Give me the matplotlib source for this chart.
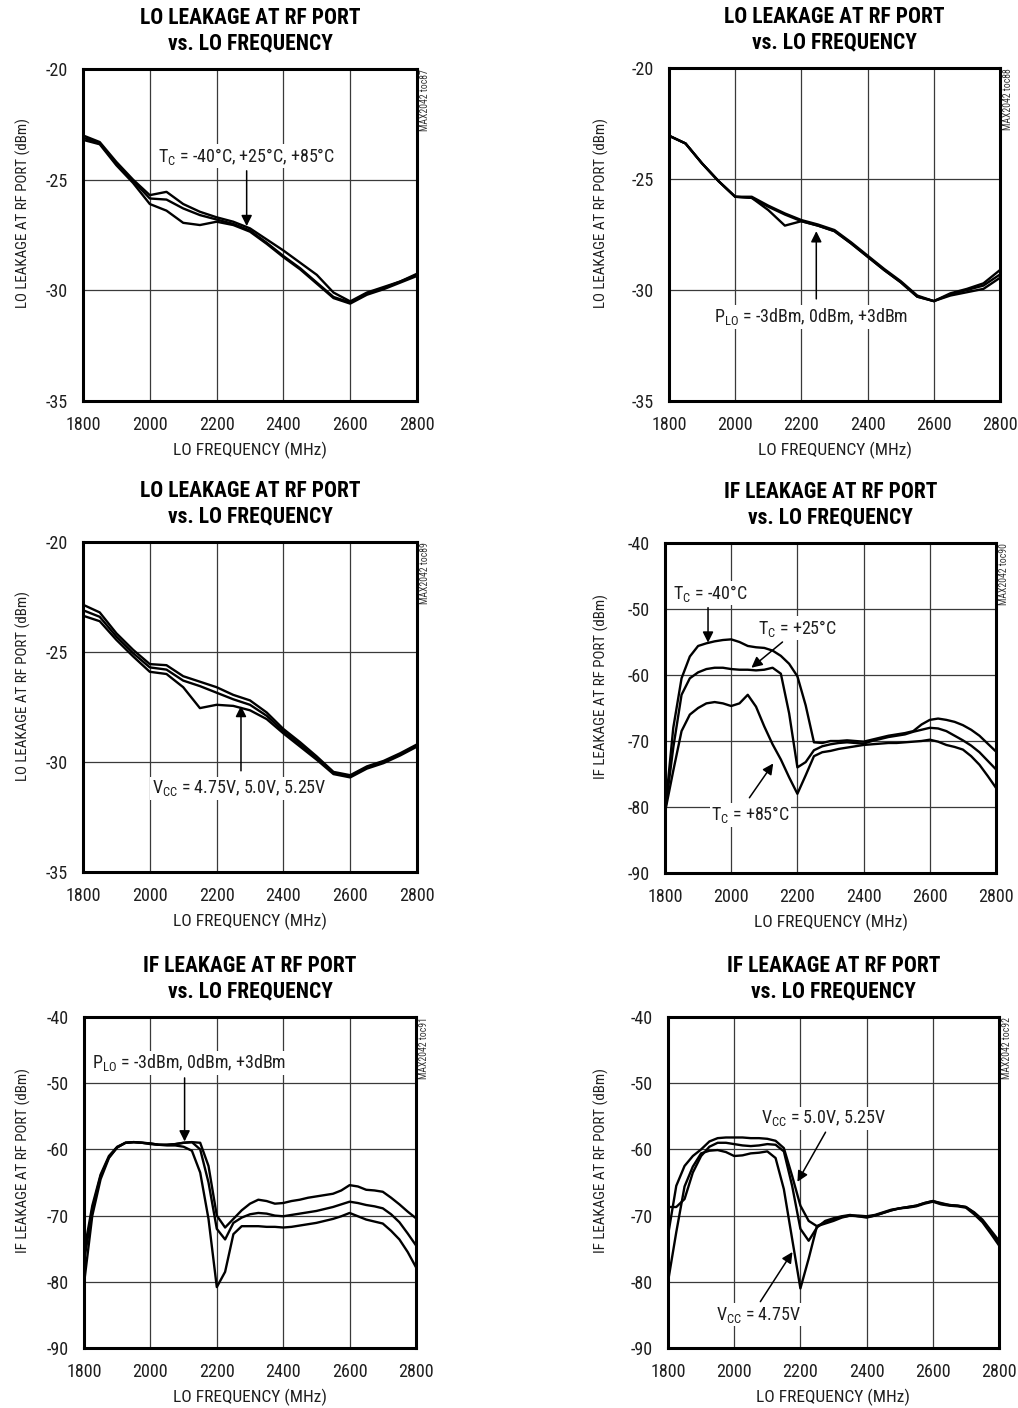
import matplotlib
matplotlib.use("Agg")
import matplotlib.pyplot as plt

FONT = ['Roboto Condensed', 'IBM Plex Sans Condensed', 'Archivo Narrow', 'DejaVu Sans']
plt.rcParams['font.family'] = FONT
plt.rcParams['mathtext.default'] = 'regular'
plt.rcParams['axes.unicode_minus'] = False

# ---------------- data ----------------
freq_ticks = [1800, 2000, 2200, 2400, 2600, 2800]
freq_tick_labels = ["1800", "2000", "2200", "2400", "2600", "2800"]
lo_yticks = [-35, -30, -25, -20]
lo_ytick_labels = ["-35", "-30", "-25", "-20"]
if_yticks = [-90, -80, -70, -60, -50, -40]
if_ytick_labels = ["-90", "-80", "-70", "-60", "-50", "-40"]

# LO leakage panels: 50 MHz step
f_lo = [1800, 1850, 1900, 1950, 2000, 2050, 2100, 2150, 2200, 2250, 2300,
        2350, 2400, 2450, 2500, 2550, 2600, 2650, 2700, 2750, 2800]

# Panel 1: LO leakage vs TC
lo_tc_a = [-23.0, -23.3, -24.2, -25.0, -25.7, -25.55, -26.1, -26.45, -26.7, -26.9, -27.2,
           -27.7, -28.2, -28.75, -29.3, -30.1, -30.5, -30.1, -29.85, -29.6, -29.25]
lo_tc_b = [-23.1, -23.35, -24.3, -25.05, -25.85, -25.9, -26.3, -26.6, -26.8, -27.0, -27.3,
           -27.85, -28.45, -29.0, -29.65, -30.3, -30.55, -30.15, -29.9, -29.6, -29.3]
lo_tc_c = [-23.2, -23.4, -24.35, -25.15, -26.1, -26.4, -26.95, -27.05, -26.9, -27.05, -27.35,
           -27.9, -28.5, -29.05, -29.7, -30.35, -30.6, -30.2, -29.95, -29.65, -29.35]

# Panel 2: LO leakage vs PLO
lo_plo_a = [-23.05, -23.4, -24.3, -25.1, -25.8, -25.8, -26.2, -26.55, -26.85, -27.05, -27.3,
            -27.85, -28.45, -29.05, -29.6, -30.25, -30.5, -30.15, -29.95, -29.7, -29.1]
lo_plo_b = [-23.05, -23.4, -24.3, -25.1, -25.8, -25.85, -26.25, -26.6, -26.9, -27.1, -27.35,
            -27.9, -28.5, -29.1, -29.65, -30.3, -30.5, -30.2, -30.0, -29.8, -29.3]
lo_plo_c = [-23.05, -23.4, -24.3, -25.1, -25.8, -25.85, -26.4, -27.1, -26.9, -27.1, -27.35,
            -27.9, -28.5, -29.1, -29.65, -30.3, -30.5, -30.25, -30.1, -29.95, -29.45]

# Panel 3: LO leakage vs VCC
lo_vcc_a = [-22.85, -23.2, -24.15, -24.9, -25.55, -25.6, -26.1, -26.35, -26.6, -26.95, -27.2,
            -27.75, -28.5, -29.1, -29.75, -30.45, -30.6, -30.2, -29.95, -29.6, -29.2]
lo_vcc_b = [-23.1, -23.4, -24.3, -25.05, -25.7, -25.8, -26.3, -26.55, -26.85, -27.15, -27.4,
            -27.9, -28.6, -29.2, -29.85, -30.5, -30.65, -30.25, -30.0, -29.65, -29.25]
lo_vcc_c = [-23.35, -23.6, -24.45, -25.2, -25.9, -26.0, -26.6, -27.55, -27.4, -27.45, -27.65,
            -28.05, -28.7, -29.3, -29.9, -30.55, -30.7, -30.3, -30.05, -29.7, -29.3]

# IF leakage panels: 25 MHz step
f_if = [1800, 1825, 1850, 1875, 1900, 1925, 1950, 1975, 2000, 2025, 2050,
        2075, 2100, 2125, 2150, 2175, 2200, 2225, 2250, 2275, 2300,
        2325, 2350, 2375, 2400, 2425, 2450, 2475, 2500, 2525, 2550,
        2575, 2600, 2625, 2650, 2675, 2700, 2725, 2750, 2775, 2800]

# Panel 4: IF leakage vs TC
if_tc_m40 = [-80.8, -68.0, -60.5, -57.2, -55.6, -55.2, -54.9, -54.7, -54.6, -55.0, -55.6,
             -55.8, -55.9, -56.3, -57.1, -58.3, -60.2, -64.6, -70.2, -70.3, -70.0,
             -70.0, -69.9, -70.0, -70.1, -69.8, -69.5, -69.2, -69.0, -68.8, -68.5,
             -67.5, -66.8, -66.6, -66.8, -67.1, -67.6, -68.3, -69.2, -70.4, -71.6]
if_tc_p25 = [-80.8, -71.0, -63.0, -60.5, -59.6, -59.1, -58.9, -58.9, -59.1, -59.2, -59.2,
             -59.3, -59.2, -58.9, -59.8, -65.8, -74.0, -73.2, -71.4, -70.8, -70.5,
             -70.3, -70.2, -70.3, -70.4, -70.0, -69.7, -69.4, -69.2, -69.0, -68.6,
             -68.3, -68.0, -68.1, -68.5, -69.2, -69.9, -70.7, -71.7, -73.0, -74.3]
if_tc_p85 = [-80.8, -74.5, -68.5, -66.0, -65.0, -64.3, -64.1, -64.3, -64.7, -64.3, -63.0,
             -64.8, -67.8, -70.5, -72.8, -75.5, -78.0, -75.2, -72.3, -71.7, -71.5,
             -71.2, -71.0, -70.8, -70.6, -70.5, -70.4, -70.3, -70.3, -70.2, -70.1,
             -70.0, -69.8, -70.1, -70.6, -70.9, -71.3, -72.3, -73.6, -75.3, -77.1]

# Panel 5: IF leakage vs PLO
if_plo_a = [-75.5, -68.5, -63.8, -61.0, -59.6, -59.0, -58.9, -59.0, -59.1, -59.3, -59.3,
            -59.2, -59.0, -58.9, -59.0, -62.5, -70.0, -71.8, -70.5, -69.2, -68.2,
            -67.6, -67.8, -68.2, -68.1, -67.8, -67.6, -67.3, -67.1, -66.9, -66.7,
            -66.2, -65.4, -65.6, -66.1, -66.2, -66.4, -67.3, -68.3, -69.4, -70.4]
if_plo_b = [-77.0, -69.0, -64.0, -61.2, -59.7, -59.0, -58.9, -59.0, -59.1, -59.3, -59.3,
            -59.2, -59.0, -58.9, -60.0, -65.0, -72.0, -73.6, -71.1, -70.3, -69.8,
            -69.6, -69.7, -70.0, -70.1, -69.9, -69.7, -69.5, -69.3, -69.0, -68.7,
            -68.3, -67.9, -68.1, -68.4, -68.6, -68.9, -69.8, -71.0, -72.7, -74.5]
if_plo_c = [-80.3, -70.0, -64.5, -61.3, -59.7, -59.0, -58.9, -59.0, -59.2, -59.3, -59.4,
            -59.4, -59.6, -60.2, -63.5, -70.5, -80.8, -78.5, -72.8, -71.6, -71.6,
            -71.6, -71.7, -71.7, -71.8, -71.7, -71.5, -71.3, -71.1, -70.8, -70.5,
            -70.1, -69.6, -70.1, -70.6, -70.9, -71.2, -72.3, -73.6, -75.5, -77.8]

# Panel 6: IF leakage vs VCC
if_vcc_475 = [-80.0, -72.5, -65.6, -62.6, -60.6, -60.2, -60.1, -60.4, -61.0, -60.9, -60.6,
              -60.5, -60.3, -61.3, -66.0, -73.5, -81.0, -76.5, -71.6, -71.2, -70.8,
              -70.3, -70.0, -70.1, -70.3, -70.0, -69.6, -69.2, -68.9, -68.8, -68.6,
              -68.2, -67.9, -68.3, -68.5, -68.6, -68.8, -69.8, -71.0, -72.7, -74.5]
if_vcc_500 = [-68.7, -68.7, -67.5, -63.5, -61.0, -59.6, -59.0, -59.0, -59.2, -59.4, -59.5,
              -59.4, -59.2, -59.3, -60.3, -65.5, -72.0, -73.8, -71.8, -70.8, -70.4,
              -70.1, -69.9, -70.1, -70.2, -70.0, -69.6, -69.2, -68.9, -68.7, -68.5,
              -68.1, -67.8, -68.2, -68.4, -68.5, -68.7, -69.6, -70.8, -72.4, -74.0]
if_vcc_525 = [-73.0, -65.5, -62.5, -61.0, -60.0, -58.8, -58.3, -58.2, -58.2, -58.2, -58.3,
              -58.3, -58.4, -58.7, -59.8, -64.0, -68.5, -70.8, -71.6, -71.0, -70.6,
              -70.2, -70.0, -70.0, -70.1, -69.9, -69.5, -69.1, -68.9, -68.7, -68.5,
              -68.1, -67.8, -68.1, -68.4, -68.5, -68.7, -69.5, -70.6, -72.2, -73.8]

# ---------------- figure ----------------
W, H = 1018, 1408
fig = plt.figure(figsize=(W / 100, H / 100), dpi=100)
fig.patch.set_facecolor('white')
TXT = '#1e1e1e'
PX = 72 / 100.0  # points per pixel


def make_axes(l, t, r, b):
    return fig.add_axes([l / W, 1 - b / H, (r - l) / W, (b - t) / H])


def style(ax, box, yticks, ylabels, ylim, ylabel, title, tag, ylab_right_px):
    l, t, r, b = box
    ax.set_xlim(1800, 2800)
    ax.set_ylim(*ylim)
    ax.set_xticks(freq_ticks)
    ax.set_xticklabels(freq_tick_labels)
    ax.set_yticks(yticks)
    ax.set_yticklabels(ylabels)
    ax.tick_params(length=0, labelsize=13, colors=TXT)
    ax.tick_params(axis='x', pad=11)
    ax.tick_params(axis='y', pad=11)
    ax.grid(True, color='#3a3a3a', lw=0.9)
    ax.set_axisbelow(True)
    for s in ax.spines.values():
        s.set_linewidth(2.2)
        s.set_color('black')
    ax.set_xlabel("LO FREQUENCY (MHz)", fontsize=12.5, color=TXT)
    ax.xaxis.set_label_coords(0.5, -0.122)
    ax.set_ylabel(ylabel, fontsize=10.8, color=TXT)
    ax.yaxis.set_label_coords((ylab_right_px - l) / (r - l), 0.565)
    ax.annotate(title, xy=(0.5, 1.0), xycoords='axes fraction',
                xytext=(0, 15 * PX), textcoords='offset points',
                ha='center', va='bottom', fontsize=15.5, fontweight='heavy',
                linespacing=1.2, color='black')
    ax.text(1.023, 1.0, tag, transform=ax.transAxes, rotation=90,
            ha='center', va='top', fontsize=7, color='#333333')


def curves(ax, x, ys):
    for y in ys:
        ax.plot(x, y, color='black', lw=1.7, solid_joinstyle='round', zorder=3)


def label(ax, text, xy_text, xy_from, xy_to):
    ax.text(xy_text[0], xy_text[1], text, ha='center', va='center', fontsize=13,
            color=TXT, zorder=5,
            bbox=dict(facecolor='white', edgecolor='none', pad=1.0))
    ax.annotate('', xy=xy_to, xytext=xy_from,
                arrowprops=dict(arrowstyle='-|>', color='black', lw=1.1,
                                mutation_scale=16, shrinkA=0, shrinkB=0),
                zorder=6)


lo_title = "LO LEAKAGE AT RF PORT\nvs. LO FREQUENCY"
if_title = "IF LEAKAGE AT RF PORT\nvs. LO FREQUENCY"
lo_ylabel = "LO LEAKAGE AT RF PORT (dBm)"
if_ylabel = "IF LEAKAGE AT RF PORT (dBm)"
LEFT_YLAB = 31
RIGHT_YLAB = 609

# Panel 1
b1 = (83, 69, 417, 401)
ax1 = make_axes(*b1)
style(ax1, b1, lo_yticks, lo_ytick_labels, (-35, -20), lo_ylabel, lo_title, "MAX2042 toc87", LEFT_YLAB)
curves(ax1, f_lo, [lo_tc_a, lo_tc_b, lo_tc_c])
label(ax1, "T$_{C}$ = -40°C, +25°C, +85°C", (2290, -23.95), (2290, -24.6), (2290, -27.1))

# Panel 2
b2 = (669, 68, 1000, 401)
ax2 = make_axes(*b2)
style(ax2, b2, lo_yticks, lo_ytick_labels, (-35, -20), lo_ylabel, lo_title, "MAX2042 toc88", RIGHT_YLAB)
curves(ax2, f_lo, [lo_plo_a, lo_plo_b, lo_plo_c])
label(ax2, "P$_{LO}$ = -3dBm, 0dBm, +3dBm", (2230, -31.2), (2245, -30.4), (2245, -27.35))

# Panel 3
b3 = (83, 542, 417, 872)
ax3 = make_axes(*b3)
style(ax3, b3, lo_yticks, lo_ytick_labels, (-35, -20), lo_ylabel, lo_title, "MAX2042 toc89", LEFT_YLAB)
curves(ax3, f_lo, [lo_vcc_a, lo_vcc_b, lo_vcc_c])
label(ax3, "V$_{CC}$ = 4.75V, 5.0V, 5.25V", (2267, -31.2), (2273, -30.4), (2273, -27.45))

# Panel 4
b4 = (665, 543, 996, 873)
ax4 = make_axes(*b4)
style(ax4, b4, if_yticks, if_ytick_labels, (-90, -40), if_ylabel, if_title, "MAX2042 toc90", RIGHT_YLAB)
curves(ax4, f_if, [if_tc_m40, if_tc_p25, if_tc_p85])
label(ax4, "T$_{C}$ = -40°C", (1936, -47.6), (1930, -49.8), (1930, -55.1))
label(ax4, "T$_{C}$ = +25°C", (2200, -52.9), (2155, -55.0), (2061, -58.9))
label(ax4, "T$_{C}$ = +85°C", (2058, -81.2), (2055, -78.6), (2127, -73.4))

# Panel 5
b5 = (84, 1017, 416, 1348)
ax5 = make_axes(*b5)
style(ax5, b5, if_yticks, if_ytick_labels, (-90, -40), if_ylabel, if_title, "MAX2042 toc91", LEFT_YLAB)
curves(ax5, f_if, [if_plo_a, if_plo_b, if_plo_c])
label(ax5, "P$_{LO}$ = -3dBm, 0dBm, +3dBm", (2118, -46.9), (2103, -49.2), (2103, -58.8))

# Panel 6
b6 = (668, 1017, 999, 1348)
ax6 = make_axes(*b6)
style(ax6, b6, if_yticks, if_ytick_labels, (-90, -40), if_ylabel, if_title, "MAX2042 toc92", RIGHT_YLAB)
curves(ax6, f_if, [if_vcc_475, if_vcc_500, if_vcc_525])
label(ax6, "V$_{CC}$ = 5.0V, 5.25V", (2270, -55.3), (2276, -57.4), (2191, -64.9))
label(ax6, "V$_{CC}$ = 4.75V", (2073, -85.0), (2079, -83.0), (2176, -75.5))

fig.savefig("out.png", dpi=100, facecolor='white')
